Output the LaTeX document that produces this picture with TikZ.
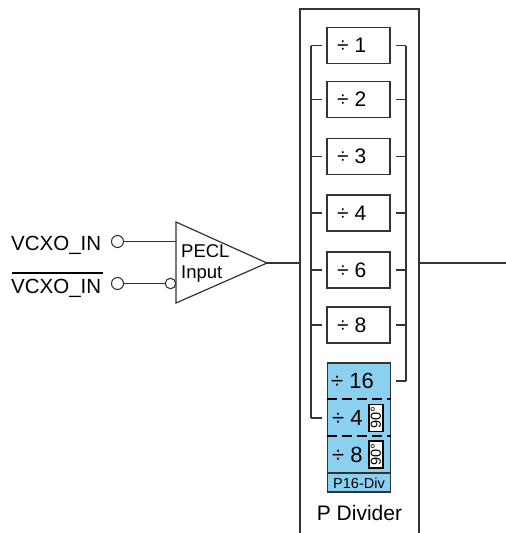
\documentclass[tikz,border=0pt]{standalone}
\usepackage{fontspec}
\setmainfont{Liberation Sans}
\definecolor{ln}{HTML}{333333}
\definecolor{pblue}{RGB}{140,208,240}
\begin{document}
\begin{tikzpicture}[x=1pt,y=-1pt,
  wire/.style={draw=ln,line width=1.3pt},
  divbox/.style={draw=ln,line width=1.3pt,fill=white,minimum width=63pt,minimum height=36pt,inner sep=0pt},
  divtxt/.style={anchor=west,inner sep=0pt,font=\fontsize{21}{23}\selectfont},
  ptxt/.style={anchor=west,inner sep=0pt,font=\fontsize{22}{24}\selectfont},
  degbox/.style={draw=black,line width=1.1pt,fill=white,minimum width=14pt,minimum height=27pt,inner sep=0pt},
  degtxt/.style={rotate=90,inner sep=0pt,font=\fontsize{14.5}{15}\selectfont},
  pin/.style={circle,draw=ln,line width=1.1pt,fill=white,minimum size=12pt,inner sep=0pt},
  bub/.style={circle,draw=ln,line width=1.1pt,fill=white,minimum size=10.5pt,inner sep=0pt},
  dashln/.style={draw=black,line width=2.8pt,dash pattern=on 10pt off 5pt}]
\useasboundingbox (0,0) rectangle (506,533);
% outer P divider box (open at bottom)
\draw[draw=ln,line width=1.4pt] (300,533) -- (300,9) -- (419,9) -- (419,533);
\coordinate (boxL) at (300,263);
\coordinate (boxR) at (419,263);
\coordinate (outR) at (506,263);
% brackets
\coordinate (lbT) at (311,46);
\coordinate (lbB) at (311,418);
\coordinate (rbT) at (406,46);
\coordinate (rbB) at (406,381);
\draw[wire] (lbT) -- (lbB);
\draw[wire] (rbT) -- (rbB);
% divider boxes
\foreach \n/\y in {1/45.5,2/99.5,3/156.5,4/213,6/270,8/325}{
  \node[divbox] (d\n) at (358.5,\y) {};
  \node[divtxt] (t\n) at (337,\y) {÷ \n};
  \draw[wire] (311,\y) -- (322,\y);
  \draw[wire] (396,\y) -- (406,\y);
}
% P16 block
\node[draw=ln,line width=1.3pt,fill=pblue,minimum width=63pt,minimum height=129pt,inner sep=0pt] (p16) at (359,427.5) {};
\draw[draw=ln,line width=1.3pt] (p16.west|-0,473) -- (p16.east|-0,473);
\draw[dashln] (p16.west|-0,399) -- (p16.east|-0,399);
\draw[dashln] (p16.west|-0,436) -- (p16.east|-0,436);
\node[ptxt] (t16) at (331,381) {÷ 16};
\node[ptxt] (t4b) at (332,418) {÷ 4};
\node[ptxt] (t8b) at (332,455) {÷ 8};
\node[degbox] (g1) at (376,418) {};
\node[degtxt] at (g1.center) {90°};
\node[degbox] (g2) at (376,454.5) {};
\node[degtxt] at (g2.center) {90°};
\node[inner sep=0pt,font=\fontsize{14.5}{16}\selectfont] (plab) at (359,483) {P16-Div};
\draw[wire] (311,418) -- (322,418);
\draw[wire] (396,381) -- (406,381);
\node[inner sep=0pt,font=\fontsize{21}{23}\selectfont] (pdiv) at (359.5,513) {P Divider};
% inputs
\node[inner sep=0pt,anchor=base west,font=\fontsize{20.5}{22}\selectfont] (in1) at (11,250) {VCXO\_IN};
\node[inner sep=0pt,anchor=base west,font=\fontsize{20.5}{22}\selectfont] (in2) at (11,293) {VCXO\_IN};
\draw[line width=1.1pt] (12,273) -- (103,273);
\node[pin] (c1) at (117.5,241.5) {};
\node[pin] (c2) at (117.5,283.5) {};
% PECL buffer
\coordinate (tA) at (176,222);
\coordinate (tB) at (176,303);
\coordinate (tC) at (267,263);
\draw[draw=ln,line width=1.2pt,fill=white] (tA) -- (tC) -- (tB) -- cycle;
\coordinate (i1) at (176,241.5);
\node[bub] (b2) at (170.5,283.5) {};
\draw[wire] (c1) -- (i1);
\draw[wire] (c2) -- (b2);
\node[inner sep=0pt,anchor=base west,font=\fontsize{18.5}{20}\selectfont] (pecl) at (181,257) {PECL};
\node[inner sep=0pt,anchor=base west,font=\fontsize{18.5}{20}\selectfont] (inp) at (181,278) {Input};
\draw[wire] (tC) -- (boxL);
\draw[wire] (boxR) -- (outR);
\end{tikzpicture}
\end{document}
